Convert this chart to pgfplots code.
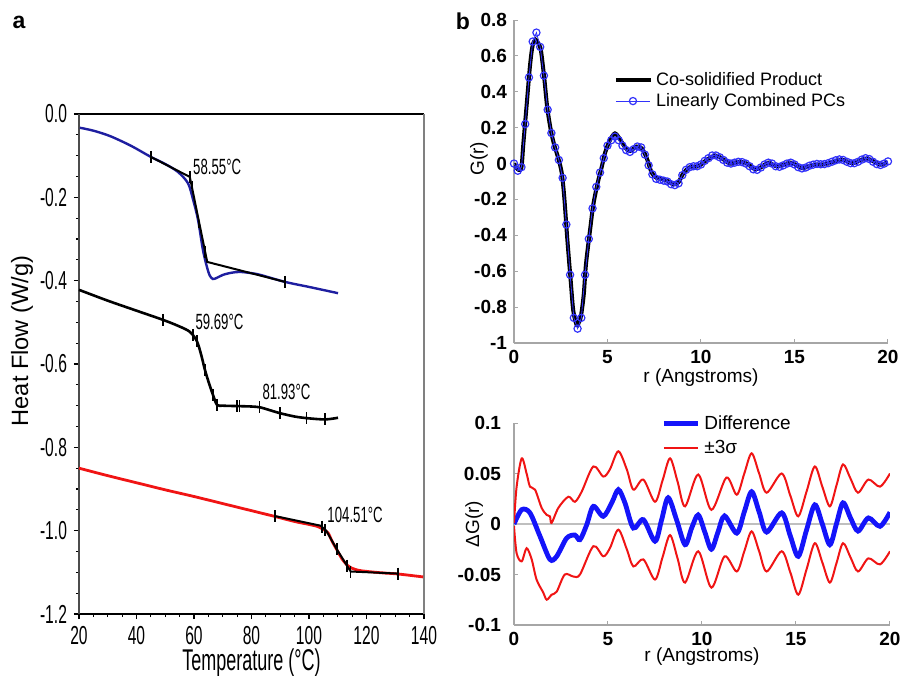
\documentclass[border=0pt]{standalone}
\usepackage{fontspec}
\setmainfont{Liberation Sans}
\newfontfamily\nar[FakeStretch=0.6]{Liberation Sans}
\usepackage{pgfplots}
\pgfplotsset{compat=1.18}
\definecolor{navy}{RGB}{30,30,160}
\definecolor{dscred}{RGB}{240,20,20}
\definecolor{pcblue}{RGB}{50,50,250}
\definecolor{diffblue}{RGB}{20,20,250}

\begin{document}
\begin{tikzpicture}
\path[use as bounding box] (0,0) rectangle (451pt,-338pt);
\node[font=\bfseries\fontsize{11.5}{11.5}\selectfont] at (9.5pt,-11pt) {a};
\node[font=\bfseries\fontsize{11.5}{11.5}\selectfont] at (231.5pt,-10.5pt) {b};

% ---------------- panel a: DSC ----------------
\begin{axis}[
  at={(39.5pt,-57pt)}, anchor=north west, scale only axis,
  width=172.5pt, height=250pt,
  xmin=20, xmax=140, ymin=-1.2, ymax=0,
  xtick={20,40,60,80,100,120,140},
  ytick={-1.2,-1.0,-0.8,-0.6,-0.4,-0.2,0},
  yticklabels={-1.2,-1.0,-0.8,-0.6,-0.4,-0.2,0.0},
  xticklabels={20,40,60,80,100,120,140},
  minor x tick num=3, minor y tick num=3,
  tick pos=left, tick align=outside,
  major tick length=2.5pt, minor tick length=1.5pt,
  tick style={black, line width=0.6pt},
  axis line style={draw=none},
  ticklabel style={font=\nar\fontsize{13}{13}\selectfont},
  xlabel={Temperature (°C)},
  ylabel={Heat Flow (W/g)},
  xlabel style={font=\nar\fontsize{15}{15}\selectfont, at={(rel axis cs:0.5,0)}, anchor=center, yshift=-24.5pt},
  ylabel style={font=\fontsize{11.8}{11.8}\selectfont, at={(rel axis cs:-0.165,0.546)}, anchor=center},
  clip=false,
]
\draw[black, line width=1pt] (rel axis cs:0,1) -- (rel axis cs:1,1);
\draw[black, line width=1pt] (rel axis cs:0,0) -- (rel axis cs:1,0);
\draw[gray, line width=0.9pt] (rel axis cs:1,0) -- (rel axis cs:1,1);
\draw[gray!60!black, line width=0.7pt] (rel axis cs:0,0) -- (rel axis cs:0,1);

% top sample (blue)
\addplot[navy, line width=1.2pt, smooth] coordinates {
 (20.3,-0.033) (25,-0.040) (30.8,-0.053) (38,-0.076) (45.0,-0.103) (50,-0.120)
 (54.4,-0.139) (57.9,-0.166) (59.7,-0.206) (61.4,-0.254) (63.1,-0.326) (64.5,-0.367)
 (65.5,-0.388) (66.6,-0.396) (68,-0.393) (70.1,-0.386) (73,-0.381) (76.0,-0.379)
 (80,-0.382) (83.0,-0.386) (91.7,-0.403) (100,-0.415) (110.1,-0.430)};
\addplot[black, line width=1pt] coordinates {
 (45,-0.103) (58.55,-0.151) (64.6,-0.355) (91.7,-0.403)};
\addplot[black, only marks, mark=|, mark size=3pt, mark options={line width=0.7pt}] coordinates {
 (45,-0.103) (58.55,-0.151) (59.4,-0.174) (61.6,-0.258) (63.8,-0.330) (91.7,-0.403)};
\node[anchor=west, font=\nar\fontsize{11}{11}\selectfont, inner sep=1pt] at (axis cs:58.9,-0.127) {58.55°C};

% middle sample (black)
\addplot[black, line width=1.3pt, smooth] coordinates {
 (20,-0.422) (30,-0.448) (40,-0.472) (49.2,-0.494) (55,-0.510) (58.6,-0.523)
 (61.0,-0.545) (62.5,-0.578) (63.8,-0.614) (65.3,-0.648) (66.6,-0.674) (68.0,-0.698)
 (70,-0.700) (75.0,-0.701) (80,-0.702) (83.0,-0.704) (86,-0.710) (89.9,-0.718)
 (95,-0.726) (99.3,-0.730) (105.6,-0.733) (110.1,-0.729)};
\addplot[black, only marks, mark=|, mark size=3pt, mark options={line width=0.7pt}] coordinates {
 (49.2,-0.494) (59.69,-0.530) (61.0,-0.545) (63.8,-0.614) (66.6,-0.674) (68.0,-0.698)
 (75.0,-0.701) (75.8,-0.701) (82.7,-0.704) (89.9,-0.718) (99.2,-0.730) (105.6,-0.733)};
\node[anchor=west, font=\nar\fontsize{11}{11}\selectfont, inner sep=1pt] at (axis cs:59.7,-0.499) {59.69°C};
\node[anchor=west, font=\nar\fontsize{11}{11}\selectfont, inner sep=1pt] at (axis cs:83.0,-0.667) {81.93°C};

% bottom sample (red)
\addplot[dscred, line width=1.4pt, smooth] coordinates {
 (20,-0.850) (30,-0.868) (40,-0.885) (50,-0.902) (60,-0.918) (70,-0.935) (80,-0.952)
 (88.2,-0.966) (95,-0.978) (100,-0.985) (103,-0.990) (104.5,-0.995) (106.6,-1.005)
 (108,-1.025) (109.7,-1.046) (111.5,-1.068) (113.2,-1.082) (114.9,-1.090) (118,-1.096)
 (125,-1.101) (131,-1.104) (139.7,-1.111)};
\addplot[black, line width=1pt] coordinates {
 (88.2,-0.965) (104.0,-0.988) (106,-1.000) (109.7,-1.045) (113.5,-1.087) (114.5,-1.098) (131,-1.103)};
\addplot[black, only marks, mark=|, mark size=3pt, mark options={line width=0.7pt}] coordinates {
 (88.2,-0.965) (104.5,-0.990) (105.5,-0.998) (109.7,-1.045) (113.2,-1.084) (114.5,-1.098) (131,-1.103)};
\node[anchor=west, font=\nar\fontsize{11}{11}\selectfont, inner sep=1pt] at (axis cs:105.6,-0.962) {104.51°C};
\end{axis}

% ---------------- panel b top: G(r) ----------------
\begin{axis}[
  at={(257pt,-10pt)}, anchor=north west, scale only axis,
  width=187pt, height=161.5pt,
  xmin=0, xmax=20, ymin=-1, ymax=0.8,
  axis x line*=bottom, axis y line*=left,
  axis line style={gray!70, line width=0.6pt, -},
  xtick={0,5,10,15,20},
  ytick={-1,-0.8,-0.6,-0.4,-0.2,0,0.2,0.4,0.6,0.8},
  yticklabels={-1,-0.8,-0.6,-0.4,-0.2,0,0.2,0.4,0.6,0.8},
  xticklabels={0,5,10,15,20},
  tick style={gray!70, line width=0.5pt}, major tick length=2pt,
  ticklabel style={font=\bfseries\fontsize{9.5}{9.5}\selectfont},
  xlabel={r (Angstroms)}, ylabel={G(r)},
  label style={font=\fontsize{9.5}{9.5}\selectfont},
  xlabel style={at={(rel axis cs:0.5,0)}, anchor=center, yshift=-17.5pt},
  ylabel style={at={(rel axis cs:-0.094,0.57)}, anchor=center},
  legend style={draw=none, fill=none, at={(0.25,0.865)}, anchor=north west,
    font=\fontsize{9}{9}\selectfont, row sep=-1.5pt},
  legend cell align=left,
]
\addplot[black, line width=2pt, smooth] coordinates {
 (0,0) (0.1,-0.02) (0.25,-0.035) (0.4,-0.02) (0.5,0.11) (0.68,0.33) (0.86,0.55)
 (1.0,0.66) (1.16,0.69) (1.3,0.67) (1.44,0.63) (1.62,0.475) (1.78,0.31) (1.98,0.18)
 (2.16,0.10) (2.34,0.04) (2.55,-0.05) (2.69,-0.19) (2.85,-0.42) (3.03,-0.65)
 (3.17,-0.82) (3.35,-0.90) (3.45,-0.89) (3.58,-0.85) (3.73,-0.73) (3.85,-0.56)
 (4.08,-0.36) (4.24,-0.23) (4.47,-0.11) (4.69,-0.02) (4.87,0.06) (5.13,0.13)
 (5.4,0.168) (5.67,0.135) (5.94,0.09) (6.2,0.07) (6.56,0.095) (6.83,0.085) (7.1,0.03)
 (7.36,-0.05) (7.63,-0.08) (8.07,-0.09) (8.52,-0.115) (8.79,-0.105) (9.05,-0.055)
 (9.41,-0.02) (9.86,-0.015) (10.3,0.02) (10.75,0.045) (11.1,0.03) (11.55,0.0)
 (12.0,0.01) (12.45,0.0) (12.9,-0.032) (13.25,-0.018) (13.6,0.005) (14.1,-0.016)
 (14.8,0.005) (15.4,-0.025) (16.0,-0.008) (16.7,-0.003) (17.5,0.022) (18.1,0.002)
 (18.85,0.028) (19.6,-0.006) (20,0.01)};
\addlegendentry{Co-solidified Product}
\addplot[pcblue, line width=0.4pt, mark=o, mark size=1.8pt, mark options={line width=0.6pt}] coordinates {
 (0.0,0.00) (0.2,-0.04) (0.4,-0.02) (0.6,0.22) (0.8,0.48) (1.0,0.68) (1.2,0.73)
 (1.4,0.65) (1.6,0.49) (1.8,0.30) (2.0,0.17) (2.2,0.09) (2.4,0.02) (2.6,-0.08)
 (2.8,-0.34) (3.0,-0.62) (3.2,-0.86) (3.4,-0.92) (3.6,-0.86) (3.8,-0.62) (4.0,-0.42)
 (4.2,-0.25) (4.4,-0.13) (4.6,-0.05) (4.8,0.03) (5.0,0.10) (5.2,0.13) (5.4,0.15)
 (5.6,0.13) (5.8,0.10) (6.0,0.075) (6.2,0.065) (6.4,0.08) (6.6,0.095) (6.8,0.09)
 (7.0,0.05) (7.2,-0.01) (7.4,-0.06) (7.6,-0.085) (7.8,-0.09) (8.0,-0.095) (8.2,-0.10)
 (8.4,-0.115) (8.6,-0.12) (8.8,-0.11) (9.0,-0.065) (9.2,-0.035) (9.4,-0.02)
 (9.6,-0.015) (9.8,-0.015) (10.0,-0.005) (10.2,0.015) (10.4,0.03) (10.6,0.045)
 (10.8,0.045) (11.0,0.035) (11.2,0.02) (11.4,0.005) (11.6,0.0) (11.8,0.005)
 (12.0,0.01) (12.2,0.008) (12.4,0.0) (12.6,-0.015) (12.8,-0.032) (13.0,-0.035)
 (13.2,-0.022) (13.4,-0.005) (13.6,0.005) (13.8,0.0) (14.0,-0.015) (14.2,-0.018)
 (14.4,-0.01) (14.6,0.0) (14.8,0.005) (15.0,-0.005) (15.2,-0.02) (15.4,-0.027)
 (15.6,-0.022) (15.8,-0.012) (16.0,-0.006) (16.2,-0.002) (16.4,-0.004) (16.6,-0.003)
 (16.8,0.002) (17.0,0.01) (17.2,0.018) (17.4,0.023) (17.6,0.02) (17.8,0.01)
 (18.0,0.002) (18.2,0.002) (18.4,0.01) (18.6,0.022) (18.8,0.03) (19.0,0.025)
 (19.2,0.01) (19.4,-0.003) (19.6,-0.008) (19.8,0.0) (20.0,0.012)};
\addlegendentry{Linearly Combined PCs}
\end{axis}

% ---------------- panel b bottom: difference ----------------
\begin{axis}[
  at={(257pt,-211.5pt)}, anchor=north west, scale only axis,
  width=188pt, height=101pt,
  xmin=0, xmax=20, ymin=-0.1, ymax=0.1,
  axis x line*=bottom, axis y line*=left,
  axis line style={gray!70, line width=0.6pt, -},
  xtick={0,5,10,15,20},
  ytick={-0.1,-0.05,0,0.05,0.1},
  yticklabels={-0.1,-0.05,0,0.05,0.1},
  xticklabels={0,5,10,15,20},
  tick style={gray!70, line width=0.5pt}, major tick length=2pt,
  ticklabel style={font=\bfseries\fontsize{9.5}{9.5}\selectfont},
  yticklabel style={xshift=-3pt},
  xlabel={r (Angstroms)}, ylabel={ΔG(r)},
  label style={font=\fontsize{9.5}{9.5}\selectfont},
  xlabel style={at={(rel axis cs:0.5,0)}, anchor=center, yshift=-16pt},
  ylabel style={at={(rel axis cs:-0.106,0.5)}, anchor=center},
  legend style={draw=none, fill=none, at={(0.375,1.08)}, anchor=north west,
    font=\fontsize{9.5}{9.5}\selectfont, row sep=0pt},
  legend cell align=left,
]
\addplot[gray!50, line width=0.8pt, forget plot] coordinates {(0,0) (20,0)};
\addplot[diffblue, line width=2.4pt, smooth] coordinates {
 (0,0) (0.41,0.0142) (0.85,0.011) (1.38,-0.012) (1.91,-0.035) (2.27,-0.032)
 (2.8,-0.014) (3.24,-0.011) (3.51,-0.0155) (3.87,-0.0007) (4.22,0.0175) (4.75,0.0076)
 (5.2,0.021) (5.55,0.034) (5.9,0.021) (6.35,-0.004) (6.88,0.0043) (7.5,-0.017)
 (7.85,0.004) (8.2,0.026) (8.65,0.004) (9.1,-0.0205) (9.45,-0.004) (9.8,0.009)
 (10.15,-0.008) (10.5,-0.025) (10.85,-0.008) (11.2,0.008) (11.85,-0.009)
 (12.25,0.012) (12.64,0.032) (13.04,0.012) (13.44,-0.008) (14.24,0.011)
 (14.7,-0.012) (15.12,-0.032) (15.56,-0.006) (16.0,0.019) (16.4,0.0) (16.8,-0.0205)
 (17.15,0.0) (17.5,0.021) (17.9,0.006) (18.3,-0.007) (18.85,0.006) (19.47,-0.0023)
 (20,0.0116)};
\addlegendentry{Difference}
\addplot[dscred, line width=1pt, smooth] coordinates {
 (0,0.001) (0.14,0.037) (0.41,0.065) (0.67,0.050) (0.85,0.037) (1.12,0.034)
 (1.47,0.016) (1.74,0.009) (1.91,0.0076) (2.0,0.001) (2.36,0.016) (2.89,0.027)
 (3.24,0.022) (3.6,0.032) (4.22,0.057) (4.75,0.047) (5.1,0.054) (5.55,0.072)
 (6.0,0.054) (6.35,0.034) (6.88,0.044) (7.5,0.022) (7.9,0.043) (8.3,0.065)
 (8.7,0.042) (9.1,0.0175) (9.8,0.049) (10.5,0.014) (11.3,0.046) (11.85,0.029)
 (12.25,0.05) (12.64,0.070) (13.04,0.05) (13.44,0.031) (14.24,0.050) (14.7,0.028)
 (15.12,0.0076) (15.56,0.032) (16.0,0.057) (16.4,0.037) (16.8,0.0175) (17.15,0.038)
 (17.5,0.059) (17.9,0.045) (18.3,0.031) (18.85,0.044) (19.47,0.037) (20,0.050)};
\addlegendentry{±3σ}
\addplot[dscred, line width=1pt, smooth, forget plot] coordinates {
 (0,-0.002) (0.14,-0.029) (0.41,-0.037) (0.67,-0.024) (0.94,-0.035) (1.2,-0.055)
 (1.56,-0.068) (1.74,-0.075) (2.0,-0.070) (2.27,-0.067) (2.7,-0.050) (3.16,-0.052)
 (3.51,-0.050) (4.22,-0.022) (4.75,-0.032) (5.1,-0.024) (5.55,-0.0056) (6.0,-0.025)
 (6.35,-0.042) (6.88,-0.035) (7.5,-0.055) (7.9,-0.033) (8.3,-0.011) (8.7,-0.034)
 (9.1,-0.058) (9.8,-0.027) (10.5,-0.063) (11.2,-0.032) (11.85,-0.047) (12.25,-0.027)
 (12.64,-0.0073) (13.04,-0.027) (13.44,-0.047) (14.24,-0.027) (14.7,-0.048)
 (15.12,-0.070) (15.56,-0.045) (16.0,-0.019) (16.4,-0.038) (16.8,-0.058)
 (17.15,-0.039) (17.5,-0.019) (17.9,-0.033) (18.3,-0.047) (18.85,-0.034)
 (19.47,-0.040) (20,-0.027)};
\end{axis}
\end{tikzpicture}
\end{document}
